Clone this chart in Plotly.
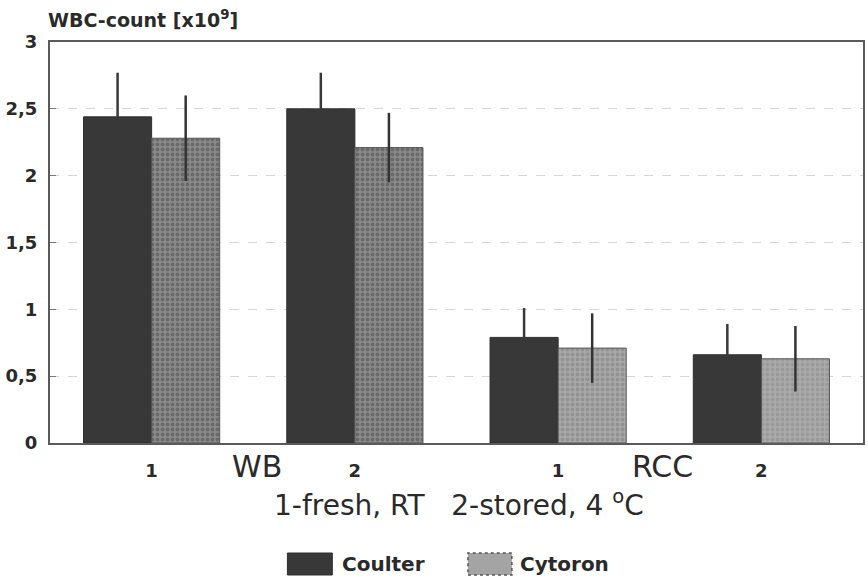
import plotly.graph_objects as go

categories = ["WB 1", "WB 2", "RCC 1", "RCC 2"]
tick_labels = ["1", "2", "1", "2"]
coulter = [2.44, 2.50, 0.79, 0.66]
coulter_err = [0.33, 0.27, 0.22, 0.23]
cytoron = [2.28, 2.21, 0.71, 0.63]
cytoron_err = [0.32, 0.26, 0.26, 0.245]
y_ticks = [0, 0.5, 1, 1.5, 2, 2.5, 3]
y_tick_text = ["0", "0,5", "1", "1,5", "2", "2,5", "3"]

xpos = list(range(len(categories)))
FONT = "Liberation Sans, Arial, Helvetica, sans-serif"
WIDE = "DejaVu Sans, Verdana, sans-serif"
TXT = "#2a2a2a"
DARK = "#383838"

fig = go.Figure()
fig.add_trace(go.Bar(
    x=xpos, y=coulter, name="Coulter",
    marker=dict(color=DARK, line=dict(color="#2e2e2e", width=1)),
    error_y=dict(type="data", array=coulter_err, visible=True,
                 color=DARK, thickness=2.5, width=0),
    showlegend=False,
))
fig.add_trace(go.Bar(
    x=xpos, y=cytoron, name="Cytoron",
    marker=dict(
        color="#8e8e8e",
        line=dict(color="#555555", width=1),
        pattern=dict(shape=".", bgcolor=["#8a8a8a", "#8a8a8a", "#a8a8a8", "#aaaaaa"],
                     fgcolor=["#4a4a4a", "#4a4a4a", "#7c7c7c", "#8a8a8a"],
                     size=5, solidity=0.45),
    ),
    error_y=dict(type="data", array=cytoron_err, visible=True,
                 color="#333333", thickness=2.5, width=0),
    showlegend=False,
))

fig.update_layout(
    width=868, height=583,
    margin=dict(l=50, r=3, t=42, b=140),
    paper_bgcolor="white", plot_bgcolor="white",
    barmode="group", bargap=0.33, bargroupgap=0,
    font=dict(family=FONT, color=TXT),
)
fig.update_xaxes(
    range=[-0.5, 3.5], tickvals=xpos, ticktext=tick_labels,
    tickfont=dict(size=18, family=WIDE, color=TXT, weight="bold"),
    showline=True, mirror=True, linecolor="#5a5a5a", linewidth=2,
    ticks="", showgrid=False, zeroline=False, ticklabelstandoff=10,
)
fig.update_yaxes(
    range=[0, 3], tickvals=y_ticks, ticktext=y_tick_text,
    tickfont=dict(size=18, family=WIDE, color=TXT, weight="bold"),
    showline=True, mirror=True, linecolor="#5a5a5a", linewidth=2,
    ticks="inside", ticklen=6, tickcolor="#777777",
    showgrid=True, gridcolor="#d6d6d6", griddash="dash", gridwidth=1,
    zeroline=False, ticklabelstandoff=7,
)

W, T, H = 815, 42, 401
def px(x):
    return (x - 50) / W
def py(y):
    return (T + H - y) / H

annots = [
    dict(text="WBC-count [x10<sup>9</sup>]", x=px(46), y=py(19), xanchor="left",
         font=dict(size=19, family=WIDE, weight="bold")),
    dict(text="WB", x=px(258), y=py(466), xanchor="center", font=dict(size=30, family=WIDE)),
    dict(text="RCC", x=px(664), y=py(466), xanchor="center", font=dict(size=30, family=WIDE)),
    dict(text="1-fresh, RT\u00a0\u00a0\u00a02-stored, 4 <sup>o</sup>C", x=px(460), y=py(503),
         xanchor="center", font=dict(size=28, family=WIDE)),
    dict(text="Coulter", x=px(341), y=py(564), xanchor="left",
         font=dict(size=20, family=WIDE, weight="bold")),
    dict(text="Cytoron", x=px(519), y=py(564), xanchor="left",
         font=dict(size=20, family=WIDE, weight="bold")),
]
for a in annots:
    fig.add_annotation(xref="paper", yref="paper", yanchor="middle", showarrow=False,
                       **a)

fig.add_shape(type="rect", xref="paper", yref="paper",
              x0=px(288), x1=px(333), y0=py(575), y1=py(553),
              fillcolor=DARK, line=dict(color="#2e2e2e", width=1))
fig.add_shape(type="rect", xref="paper", yref="paper",
              x0=px(469), x1=px(513), y0=py(575), y1=py(553),
              fillcolor="#a4a4a4", line=dict(color="#555555", width=1.5, dash="dot"))

fig.write_html("out.html")
